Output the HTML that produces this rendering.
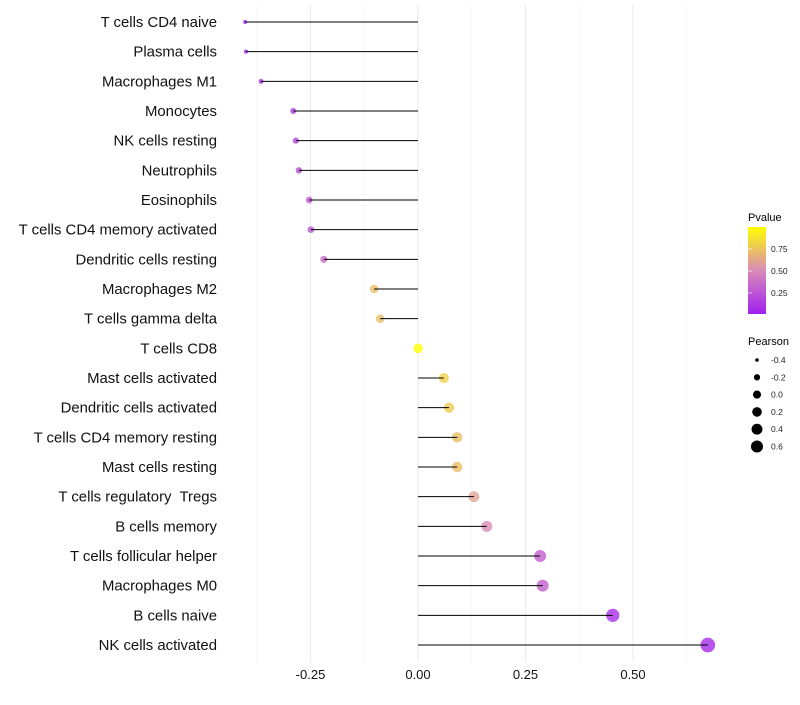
<!DOCTYPE html>
<html><head><meta charset="utf-8"><style>
body{margin:0;background:#fff}
svg{font-family:"Liberation Sans",sans-serif}
text{white-space:pre}
</style></head><body>
<svg id="c" width="800" height="700">
<defs><linearGradient id="pg" x1="0" y1="1" x2="0" y2="0">
<stop offset="0" stop-color="#A020F0"/><stop offset="0.5" stop-color="#D98BB8"/><stop offset="1" stop-color="#FFFF00"/>
</linearGradient></defs>
<g id="grid"></g><g id="marks"></g><g id="labels"></g><g id="xaxis"></g>
<g id="legend">
<text x="748" y="221" font-size="11">Pvalue</text>
<rect x="748" y="227" width="18" height="87" fill="url(#pg)"/>
<g id="cbticks"></g>
<text x="748" y="345" font-size="11">Pearson</text>
<g id="sizeleg"></g>
</g>
</svg>
<script>
const cells=["T cells CD4 naive","Plasma cells","Macrophages M1","Monocytes","NK cells resting","Neutrophils","Eosinophils","T cells CD4 memory activated","Dendritic cells resting","Macrophages M2","T cells gamma delta","T cells CD8","Mast cells activated","Dendritic cells activated","T cells CD4 memory resting","Mast cells resting","T cells regulatory  Tregs","B cells memory","T cells follicular helper","Macrophages M0","B cells naive","NK cells activated"];
const pearson=[-0.402,-0.40,-0.365,-0.29,-0.284,-0.277,-0.253,-0.249,-0.219,-0.102,-0.088,0.0,0.06,0.072,0.091,0.091,0.13,0.16,0.284,0.29,0.453,0.674];
const pvalue=[0.02,0.02,0.05,0.15,0.17,0.2,0.25,0.25,0.35,0.72,0.72,1.0,0.8,0.78,0.72,0.72,0.6,0.5,0.3,0.3,0.07,0.05];
const xTicks=[-0.25,0,0.25,0.5];
const xTickLabels=["-0.25","0.00","0.25","0.50"];
const xMinor=[-0.375,-0.125,0.125,0.375,0.625];
const pTicks=[0.25,0.5,0.75];
const pTickLabels=["0.25","0.50","0.75"];
const sizeVals=[-0.4,-0.2,0,0.2,0.4,0.6];
const sizeLabels=["-0.4","-0.2","0.0","0.2","0.4","0.6"];
const NS="http://www.w3.org/2000/svg";
const X=v=>418+v*430;
const Y=i=>22+i*29.667;
const R=v=>Math.sqrt(4+Math.max(0,(v+0.41)/1.09)*50);
const PY=p=>315-p*88;
function col(p){const a=[160,32,240],m=[217,139,184],b=[255,255,0];let c;
 if(p<0.5){const t=p/0.5;c=a.map((x,k)=>x+(m[k]-x)*t);}else{const t=(p-0.5)/0.5;c=m.map((x,k)=>x+(b[k]-x)*t);}
 return `rgb(${c.map(Math.round).join(",")})`;}
function mk(tag,at,parent){const e=document.createElementNS(NS,tag);for(const k in at)e.setAttribute(k,at[k]);document.getElementById(parent).appendChild(e);return e;}
xMinor.forEach(v=>{const e=mk("line",{x1:X(v),x2:X(v),y1:5,y2:662,stroke:"#f2f2f2","stroke-width":0.6},"grid");

});
xTicks.forEach((v,i)=>{const e=mk("line",{x1:X(v),x2:X(v),y1:5,y2:662,stroke:"#ebebeb","stroke-width":1},"grid");


const t=mk("text",{x:X(v),y:679,"font-size":13,"text-anchor":"middle",fill:"#111"},"xaxis");t.textContent=xTickLabels[i];

});
cells.forEach((c,i)=>{
const y=Y(i);
const d=mk("circle",{cx:X(pearson[i]),cy:y,r:R(pearson[i]),fill:col(pvalue[i]),"fill-opacity":0.8},"marks");


const l=mk("line",{x1:X(0),x2:X(pearson[i]),y1:y,y2:y,stroke:"#000","stroke-width":1},"marks");


const t=mk("text",{x:217,y:y+5,"font-size":14.9,"text-anchor":"end",fill:"#111"},"labels");t.textContent=c;

});
pTicks.forEach((p,i)=>{const y=PY(p);
const l=mk("line",{x1:748,x2:752,y1:y,y2:y,stroke:"#fff","stroke-width":0.6},"cbticks");


const t=mk("text",{x:771,y:y+3,"font-size":8.5,fill:"#222"},"cbticks");t.textContent=pTickLabels[i];

});
sizeVals.forEach((v,i)=>{const y=360+i*17.3;
const c=mk("circle",{cx:757,cy:y,r:R(v)*0.85,fill:"#000"},"sizeleg");


const t=mk("text",{x:771,y:y+3,"font-size":8.5,fill:"#222"},"sizeleg");t.textContent=sizeLabels[i];

});
</script>
</body></html>
